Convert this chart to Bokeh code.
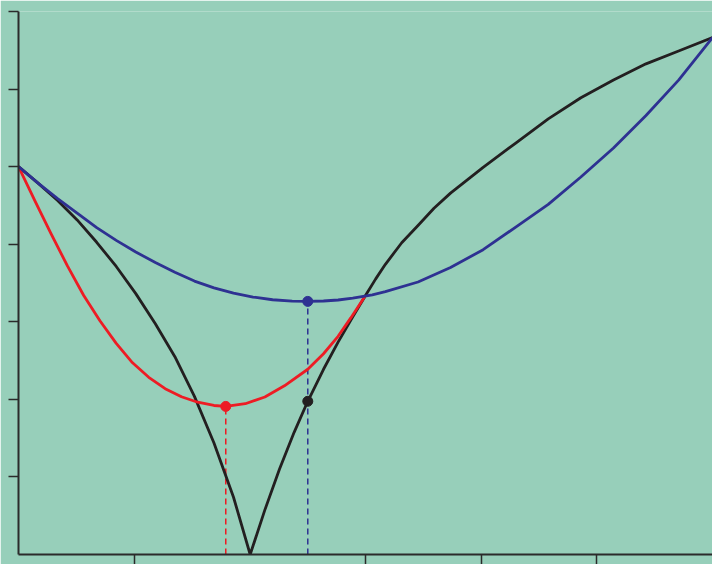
from bokeh.plotting import figure
from bokeh.models import FixedTicker, Range1d
from bokeh.embed import file_html
from bokeh.resources import INLINE

# ---- data (x: 0..6, y: 0..7) ----
black_x = [0.000, 0.169, 0.338, 0.507, 0.676, 0.845, 1.014, 1.183, 1.352, 1.521,
           1.690, 1.859, 2.003,
           2.130, 2.256, 2.383, 2.501, 2.637, 2.763, 2.890, 3.000, 3.087, 3.172,
           3.313, 3.454, 3.592, 3.735, 4.017, 4.299, 4.580, 4.862, 5.144, 5.425,
           5.707, 6.000]
black_y = [5.000, 4.788, 4.563, 4.313, 4.025, 3.713, 3.363, 2.975, 2.550, 2.038,
           1.438, 0.738, 0.000,
           0.575, 1.100, 1.575, 1.975, 2.388, 2.738, 3.063, 3.338, 3.550, 3.741,
           4.019, 4.241, 4.463, 4.659, 4.991, 5.304, 5.616, 5.888, 6.116, 6.325,
           6.491, 6.663]

blue_x = [0.000, 0.169, 0.338, 0.507, 0.676, 0.845, 1.014, 1.183, 1.352, 1.521,
          1.690, 1.859, 2.028, 2.197, 2.366, 2.501, 2.637, 2.763, 2.890, 3.059,
          3.172, 3.454, 3.735, 4.017, 4.299, 4.580, 4.862, 5.144, 5.425, 5.707,
          6.000]
blue_y = [5.000, 4.788, 4.588, 4.400, 4.213, 4.050, 3.900, 3.763, 3.638, 3.525,
          3.438, 3.369, 3.319, 3.284, 3.266, 3.263, 3.268, 3.281, 3.304, 3.346,
          3.388, 3.513, 3.700, 3.929, 4.221, 4.513, 4.866, 5.241, 5.659, 6.116,
          6.663]

red_x = [0.000, 0.141, 0.281, 0.423, 0.564, 0.704, 0.845, 0.986, 1.126, 1.268,
         1.409, 1.549, 1.690, 1.792, 1.961, 2.130, 2.299, 2.501, 2.637, 2.763,
         2.873, 3.000]
red_y = [5.000, 4.563, 4.138, 3.720, 3.339, 3.013, 2.721, 2.471, 2.284, 2.138,
         2.034, 1.963, 1.921, 1.909, 1.944, 2.031, 2.175, 2.388, 2.588, 2.813,
         3.050, 3.338]

red_min = (1.792, 1.909)
blue_min = (2.501, 3.263)
black_pt = (2.501, 1.975)

x_ticks = [1, 3, 4, 5]
y_ticks = [1, 2, 3, 4, 5, 6, 7]

BG = "#97cfba"
BLACK = "#231f20"
RED = "#ed1c24"
BLUE = "#2e3192"
AXIS = "#2b2b2b"

p = figure(width=712, height=564, output_backend="svg", toolbar_location=None,
           x_range=Range1d(0, 6), y_range=Range1d(0, 7),
           min_border_left=18, min_border_top=11, min_border_right=0,
           min_border_bottom=9)
p.background_fill_color = BG
p.border_fill_color = BG
p.outline_line_color = None
p.grid.visible = False

# ticks without labels: drawn as (label-less) minor ticks
for ax, ticks in ((p.xaxis[0], x_ticks), (p.yaxis[0], y_ticks)):
    ax.ticker = FixedTicker(ticks=[], minor_ticks=ticks)
    ax.axis_line_color = AXIS
    ax.axis_line_width = 2
    ax.major_tick_line_color = None
    ax.minor_tick_line_color = AXIS
    ax.minor_tick_line_width = 1.5
    ax.minor_tick_out = 10
    ax.minor_tick_in = 0
    ax.major_label_text_color = None
    ax.axis_label = None

# dashed drop lines
p.segment(x0=[red_min[0]], y0=[0], x1=[red_min[0]], y1=[red_min[1]],
          line_color=RED, line_width=1.5, line_dash="6 4")
p.segment(x0=[blue_min[0]], y0=[0], x1=[blue_min[0]], y1=[blue_min[1]],
          line_color=BLUE, line_width=1.5, line_dash="6 4")

p.line(black_x, black_y, line_color=BLACK, line_width=2.8, line_join="round")
p.line(red_x, red_y, line_color=RED, line_width=2.8, line_join="round")
p.line(blue_x, blue_y, line_color=BLUE, line_width=2.8, line_join="round")

p.scatter([red_min[0]], [red_min[1]], size=10, color=RED)
p.scatter([blue_min[0]], [blue_min[1]], size=10, color=BLUE)
p.scatter([black_pt[0]], [black_pt[1]], size=10, color=BLACK)

open("out.html", "w").write(file_html(p, INLINE))
